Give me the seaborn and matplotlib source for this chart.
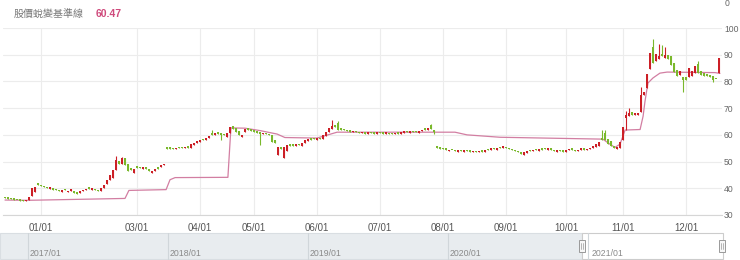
import matplotlib
matplotlib.use("Agg")
import numpy as np
import pandas as pd
import seaborn as sns
import matplotlib.pyplot as plt
from matplotlib.patches import Rectangle

# ---------------- data ----------------
opens = [36.7, 36.4, 36.2, 36.0, 35.8, 35.6, 35.5, 35.3, 35.6, 37.0,
         38.6, 42.0, 41.4, 41.0, 40.4, 39.8, 40.2, 39.6, 39.4, 38.7,
         39.6, 38.5, 39.0, 39.0, 38.4, 38.1, 38.8, 39.3, 40.2, 39.5,
         39.8, 39.4, 39.0, 40.0, 41.6, 43.2, 44.0, 46.8, 50.4, 49.2,
         51.2, 49.0, 47.6, 45.6, 48.2, 47.9, 47.3, 47.8, 47.2, 45.6,
         46.6, 47.7, 47.8, 48.6, 55.6, 55.3, 55.1, 54.6, 55.4, 55.4,
         55.0, 55.6, 55.2, 56.2, 56.8, 57.4, 58.3, 58.0, 58.8, 60.8,
         60.0, 60.9, 60.7, 60.4, 59.2, 60.8, 63.2, 62.7, 61.5, 59.2,
         61.0, 62.4, 62.2, 61.8, 61.4, 61.0, 60.2, 60.7, 60.4, 60.0,
         58.2, 52.4, 55.6, 51.4, 53.8, 56.6, 56.4, 55.8, 56.7, 56.0,
         57.0, 57.6, 58.6, 58.7, 58.2, 59.0, 58.5, 59.5, 61.0, 62.2,
         63.8, 64.6, 62.5, 62.3, 62.0, 61.8, 61.0, 61.5, 61.2, 60.6,
         61.0, 60.5, 61.0, 61.0, 60.4, 60.9, 60.8, 60.4, 60.8, 60.6,
         60.2, 60.8, 60.4, 60.8, 61.4, 60.8, 61.4, 61.3, 60.8, 61.4,
         62.3, 61.8, 63.6, 62.0, 55.9, 55.4, 55.0, 54.8, 54.0, 54.5,
         54.4, 53.6, 54.3, 53.5, 54.2, 54.0, 53.6, 54.0, 53.4, 54.0,
         53.5, 54.6, 54.2, 55.0, 54.5, 55.4, 55.0, 55.6, 55.2, 54.8,
         54.4, 53.9, 53.5, 52.4, 53.2, 54.2, 53.8, 54.6, 54.0, 54.8,
         55.0, 54.4, 54.9, 54.5, 53.6, 54.2, 54.2, 53.7, 54.2, 54.8,
         54.4, 53.8, 54.3, 55.0, 54.2, 54.6, 55.0, 55.6, 56.0, 59.0,
         60.6, 58.4, 57.6, 55.8, 54.8, 55.0, 58.0, 66.4, 67.0, 68.5,
         67.4, 67.6, 68.5, 75.0, 77.4, 84.6, 93.0, 87.5, 88.5, 90.3,
         88.6, 90.0, 89.5, 87.0, 84.2, 82.3, 81.8, 81.5, 81.8, 82.0,
         83.0, 86.5, 84.0, 83.0, 82.6, 82.5, 82.0, 81.0, 83.2]
closes = [36.4, 36.1, 35.9, 35.7, 35.5, 35.4, 35.3, 35.6, 36.9, 40.0,
          40.6, 41.2, 40.9, 40.4, 40.0, 40.3, 39.5, 39.2, 39.0, 39.1,
          39.2, 39.0, 39.6, 38.4, 38.0, 38.8, 39.4, 39.8, 39.8, 40.0,
          39.2, 38.9, 40.0, 41.2, 43.2, 45.0, 46.8, 50.6, 49.2, 51.2,
          48.7, 46.3, 47.0, 47.4, 47.7, 47.5, 47.8, 47.1, 46.6, 46.6,
          47.4, 47.3, 48.7, 49.1, 54.6, 54.8, 54.6, 55.2, 55.0, 55.0,
          55.4, 55.2, 56.4, 57.0, 57.6, 58.0, 57.9, 58.8, 59.6, 60.0,
          60.6, 60.3, 60.0, 60.0, 60.8, 62.8, 62.2, 61.2, 60.0, 60.1,
          62.2, 61.9, 61.5, 61.2, 60.6, 60.4, 60.7, 60.2, 59.8, 57.4,
          56.8, 55.4, 54.6, 55.6, 56.2, 56.0, 56.0, 56.5, 56.2, 57.0,
          57.9, 58.3, 58.2, 58.3, 58.8, 58.5, 59.8, 61.0, 62.6, 63.4,
          63.0, 62.0, 61.8, 61.8, 61.5, 61.2, 61.5, 61.0, 60.6, 61.0,
          60.5, 61.0, 60.6, 60.4, 60.9, 60.6, 60.4, 60.8, 60.3, 60.2,
          60.7, 60.4, 61.0, 61.4, 61.0, 61.4, 60.9, 61.0, 61.6, 62.0,
          62.0, 62.5, 62.2, 61.0, 55.1, 54.8, 54.6, 54.4, 54.5, 54.2,
          54.0, 54.3, 54.0, 54.2, 53.9, 53.7, 54.0, 53.6, 54.0, 53.7,
          54.4, 54.2, 55.0, 54.6, 55.2, 55.0, 55.8, 55.0, 54.6, 54.2,
          53.8, 53.4, 53.0, 53.6, 54.0, 53.8, 54.4, 54.2, 54.6, 54.5,
          54.6, 54.9, 54.5, 54.0, 54.2, 53.8, 53.7, 54.3, 54.8, 54.4,
          53.9, 54.4, 55.0, 54.5, 54.8, 55.2, 55.8, 56.4, 57.2, 58.0,
          58.2, 56.6, 55.8, 55.2, 55.4, 57.5, 63.0, 67.6, 68.0, 67.6,
          68.0, 68.3, 74.8, 76.0, 82.8, 90.8, 87.0, 90.2, 89.6, 89.4,
          90.0, 88.5, 86.0, 83.5, 82.0, 83.8, 80.6, 80.5, 85.2, 84.0,
          85.6, 83.0, 82.4, 82.0, 82.0, 81.8, 80.5, 80.8, 88.8]
# notable shadows (index -> value)
wick_high = {37: 52.0, 39: 51.8, 69: 61.8, 109: 65.6, 111: 65.0, 142: 64.2,
             199: 61.8, 200: 62.0, 207: 69.0, 208: 70.0, 212: 78.0,
             216: 96.0, 218: 94.0, 219: 93.5, 220: 93.0, 231: 87.6}
wick_low = {72: 58.2, 85: 56.2, 143: 60.2, 207: 62.0, 226: 76.0, 236: 79.6}

# baseline (股價蛻變基準線) vertices: candle index, value
base_idx = [0, 7.7, 40, 41.3, 53.7, 55, 56.7, 74.3, 75.3, 80, 85,
            90.7, 93.3, 104, 110.7, 150, 154, 165, 199.3, 201, 203.3,
            205, 206.7, 211.7, 212.7, 213.3, 214.3, 216, 218.3, 220.7,
            236.7, 238.3]
base_val = [35.6, 35.5, 36.2, 39.2, 39.5, 43.2, 44.0, 44.1, 62.6, 62.5, 61.6,
            60.3, 59.0, 58.8, 61.0, 61.0, 60.0, 59.1, 58.4, 57.0, 55.3,
            56.5, 61.8, 62.0, 67.0, 72.3, 79.4, 81.3, 83.1, 83.5,
            83.3, 83.0]

tick_idx = [12, 44, 65, 83, 104, 125, 146, 167, 187, 206, 227]
tick_labels = ["01/01", "03/01", "04/01", "05/01", "06/01", "07/01",
               "08/01", "09/01", "10/01", "11/01", "12/01"]
y_ticks = [30, 40, 50, 60, 70, 80, 90, 100]
nav_years = ["2017/01", "2018/01", "2019/01", "2020/01", "2021/01"]
title_text = "股價蛻變基準線"
title_value = "60.47"

# ---------------- style ----------------
sns.set_theme(style="white")
plt.rcParams["font.family"] = ["Liberation Sans", "Noto Sans CJK TC", "DejaVu Sans"]

RED = "#cc1f26"
GREEN = "#7ab82c"
PINK = "#d27ea2"
GRID = "#ececec"
W, H = 740, 260

fig = plt.figure(figsize=(W / 100, H / 100), dpi=100)
fig.patch.set_facecolor("white")


def px_axes(x0, y0, x1, y1):
    return fig.add_axes([x0 / W, 1 - y1 / H, (x1 - x0) / W, (y1 - y0) / H])


ax = px_axes(3, 28, 722, 215)

df = pd.DataFrame({"idx": np.arange(len(closes)), "open": opens, "close": closes})
df["up"] = df["close"] >= df["open"]
df["lo_body"] = df[["open", "close"]].min(axis=1)
df["hi_body"] = df[["open", "close"]].max(axis=1)
df["high"] = [wick_high.get(i, h) for i, h in zip(df["idx"], df["hi_body"])]
df["low"] = [wick_low.get(i, l) for i, l in zip(df["idx"], df["lo_body"])]
df["color"] = np.where(df["up"], RED, GREEN)

# grid
ax.set_xlim(-0.667, 239.0)
ax.set_ylim(30, 100)
ax.set_yticks(y_ticks)
ax.set_xticks(tick_idx)
ax.set_xticklabels(tick_labels)
ax.grid(True, axis="both", color=GRID, lw=0.8)
ax.set_axisbelow(True)

# baseline
sns.lineplot(x=base_idx, y=base_val, ax=ax, color=PINK, lw=0.9,
             estimator=None, sort=False, zorder=2)

# candles
ax.vlines(df["idx"], df["low"], df["high"], colors=df["color"], lw=0.8, zorder=3)
heights = np.maximum(df["hi_body"] - df["lo_body"], 0.5)
ax.bar(df["idx"], heights, bottom=df["lo_body"], width=0.88,
       color=df["color"], edgecolor="none", zorder=4)

ax.set_xlabel("")
ax.set_ylabel("")
for s in ["left", "right", "top"]:
    ax.spines[s].set_visible(False)
ax.spines["bottom"].set_color("#d6d6d6")
ax.spines["bottom"].set_linewidth(0.8)
ax.yaxis.tick_right()
ax.tick_params(axis="y", length=0, pad=1.5, labelsize=6.2, labelcolor="#666666")
ax.tick_params(axis="x", length=0, pad=6, labelsize=7, labelcolor="#555555")

# header
fig.text(14 / W, 1 - 14 / H, title_text, fontsize=7.2, color="#777777",
         va="center", ha="left")
fig.text(96 / W, 1 - 14 / H, title_value, fontsize=7.5, color="#cf4a7c",
         va="center", ha="left", fontweight="bold")
fig.text(725 / W, 1 - 4 / H, "0", fontsize=6.2, color="#666666", va="center", ha="left")

# navigator
nav = px_axes(0, 231, W, H)
nav.set_xlim(0, W)
nav.set_ylim(H, 231)
nav.axis("off")
nav.add_patch(Rectangle((0, 233), 582, 26, facecolor="#e8ecef",
                        edgecolor="#d9dee2", lw=0.8))
nav.add_patch(Rectangle((582, 233), 141, 26, facecolor="white",
                        edgecolor="#cccccc", lw=0.8))
for xs in [28, 168, 308, 448, 588]:
    nav.plot([xs, xs], [233, 259], color="#d0d6da", lw=0.8)
for xs, lab in zip([30, 170, 310, 450, 592], nav_years):
    nav.text(xs, 253, lab, fontsize=6.3, color="#8a8a8a", va="center", ha="left")
for hx in [582, 722]:
    nav.add_patch(Rectangle((hx - 3, 240), 6, 12, facecolor="#f7f7f7",
                            edgecolor="#999999", lw=0.7, zorder=5))
    nav.plot([hx - 0.8, hx - 0.8], [243, 249], color="#999999", lw=0.5, zorder=6)
    nav.plot([hx + 0.8, hx + 0.8], [243, 249], color="#999999", lw=0.5, zorder=6)

fig.savefig("out.png", dpi=100, facecolor="white")
